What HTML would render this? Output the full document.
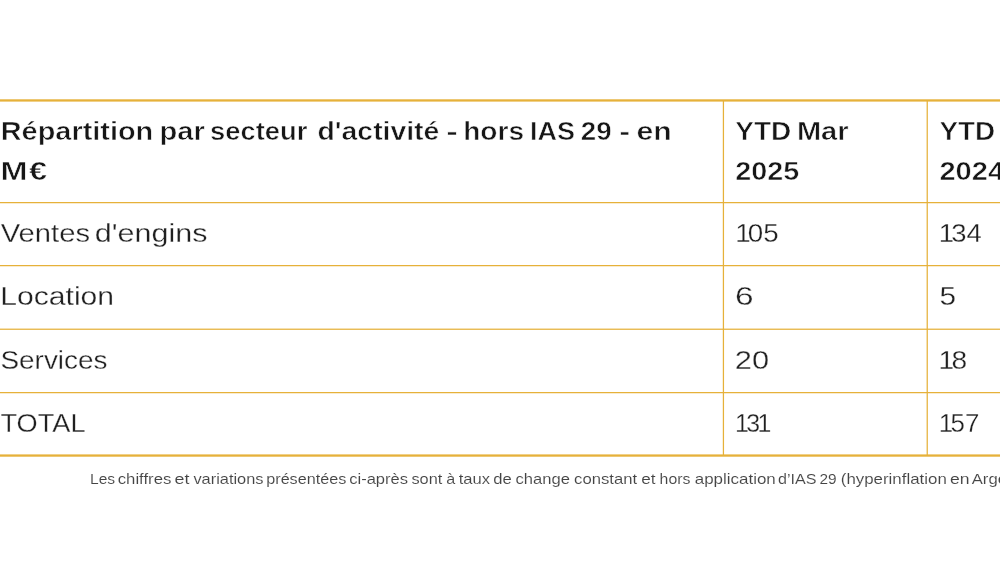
<!DOCTYPE html>
<html lang="fr">
<head>
<meta charset="utf-8">
<title>Répartition par secteur d'activité</title>
<style>
html,body{margin:0;padding:0;background:#fff;}
body{width:1000px;height:564px;overflow:hidden;position:relative;box-sizing:border-box;padding-top:100px;font-family:"Liberation Sans",sans-serif;}
#grid{position:absolute;left:0;top:0;}
table{border-collapse:collapse;table-layout:fixed;width:1131px;margin:0;border:0;}
col.c1{width:723.4px;} col.c2,col.c3{width:203.8px;}
th,td{padding:0;border:0;text-align:left;font-weight:normal;}
thead tr{height:102.4px;} tbody tr{height:63.3px;}
.t{position:absolute;left:0;white-space:nowrap;line-height:1;margin:0;padding:0;height:1em;width:1000px;}
.t span{position:absolute;left:0;top:0;display:block;transform-origin:0 0;}
.t i{font-style:normal;margin:0 -2.7px;}
.h{font-weight:bold;color:#161616;-webkit-text-stroke:0.55px #fff;font-size:26.4px;}
.b{color:#202020;-webkit-text-stroke:0.3px #fff;font-size:26.2px;}
.f{color:#444;-webkit-text-stroke:0.1px #fff;font-size:14px;}
</style>
</head>
<body>
<svg id="grid" width="1000" height="564" viewBox="0 0 1000 564">
  <g fill="#e6b13a">
    <rect x="0" y="99.3" width="1000" height="2.3"/>
    <rect x="0" y="202.0" width="1000" height="1.25"/>
    <rect x="0" y="265.0" width="1000" height="1.25"/>
    <rect x="0" y="328.6" width="1000" height="1.25"/>
    <rect x="0" y="392.0" width="1000" height="1.25"/>
    <rect x="0" y="454.4" width="1000" height="2.3"/>
    <rect x="722.8" y="100" width="1.25" height="355"/>
    <rect x="926.6" y="100" width="1.25" height="355"/>
  </g>
</svg>
<table>
<colgroup><col class="c1"><col class="c2"><col class="c3"></colgroup>
<thead>
<tr>
<th><div class="t h" id="h1a" style="top:118px"><span id="h1a_0" style="transform:translateX(0.75px) scaleX(1.095)">Répartition</span> <span id="h1a_1" style="transform:translateX(159.60px) scaleX(1.102)">par</span> <span id="h1a_2" style="transform:translateX(210.05px) scaleX(1.036)">secteur</span> <span id="h1a_3" style="transform:translateX(317.50px) scaleX(1.075)">d'activité</span> <span id="h1a_4" style="transform:translateX(446.25px) scaleX(1.322)">-</span> <span id="h1a_5" style="transform:translateX(463.20px) scaleX(1.063)">hors</span> <span id="h1a_6" style="transform:translateX(530.00px) scaleX(1.021)">IAS</span> <span id="h1a_7" style="transform:translateX(580.75px) scaleX(1.052)">29</span> <span id="h1a_8" style="transform:translateX(619.30px) scaleX(1.240)">-</span> <span id="h1a_9" style="transform:translateX(636.50px) scaleX(1.145)">en</span></div>
<div class="t h" id="h1b" style="top:158px"><span id="h1b_0" style="letter-spacing:1.2px;transform:translateX(0.50px) scaleX(1.229)">M€</span></div></th>
<th><div class="t h" id="h2a" style="top:118px"><span id="h2a_0" style="transform:translateX(735.25px) scaleX(1.062)">YTD</span> <span id="h2a_1" style="transform:translateX(796.90px) scaleX(1.101)">Mar</span></div>
<div class="t h" id="h2b" style="top:158px"><span id="h2b_0" style="transform:translateX(735.25px) scaleX(1.091)">2025</span></div></th>
<th><div class="t h" id="h3a" style="top:118px"><span id="h3a_0" style="transform:translateX(939.40px) scaleX(1.057)">YTD</span> <span id="h3a_1" style="transform:translateX(1001.05px) scaleX(1.107)">Mar</span></div>
<div class="t h" id="h3b" style="top:158px"><span id="h3b_0" style="transform:translateX(939.40px) scaleX(1.101)">2024</span></div></th>
</tr>
</thead>
<tbody>
<tr>
<td><div class="t b" id="r1a" style="top:220px"><span id="r1a_0" style="transform:translateX(0.75px) scaleX(1.114)">Ventes</span> <span id="r1a_1" style="transform:translateX(94.75px) scaleX(1.166)">d'engins</span></div></td>
<td><div class="t b" id="r1b" style="top:220px"><span id="r1b_0" style="transform:translateX(738.05px) scaleX(1.060)"><i>1</i>05</span></div></td>
<td><div class="t b" id="r1c" style="top:220px"><span id="r1c_0" style="transform:translateX(941.55px) scaleX(1.048)"><i>1</i>34</span></div></td>
</tr>
<tr>
<td><div class="t b" id="r2a" style="top:283px"><span id="r2a_0" style="transform:translateX(0.25px) scaleX(1.150)">Location</span></div></td>
<td><div class="t b" id="r2b" style="top:283px"><span id="r2b_0" style="transform:translateX(735.00px) scaleX(1.275)">6</span></div></td>
<td><div class="t b" id="r2c" style="top:283px"><span id="r2c_0" style="transform:translateX(939.50px) scaleX(1.140)">5</span></div></td>
</tr>
<tr>
<td><div class="t b" id="r3a" style="top:347px"><span id="r3a_0" style="transform:translateX(0.50px) scaleX(1.065)">Services</span></div></td>
<td><div class="t b" id="r3b" style="top:347px"><span id="r3b_0" style="transform:translateX(734.75px) scaleX(1.177)">20</span></div></td>
<td><div class="t b" id="r3c" style="top:347px"><span id="r3c_0" style="transform:translateX(941.50px) scaleX(1.076)"><i>1</i>8</span></div></td>
</tr>
<tr>
<td><div class="t b" id="r4a" style="top:410px"><span id="r4a_0" style="transform:translateX(0.50px) scaleX(1.037)">TOTAL</span></div></td>
<td><div class="t b" id="r4b" style="top:410px"><span id="r4b_0" style="transform:translateX(737.50px) scaleX(0.950)"><i>1</i>3<i>1</i></span></div></td>
<td><div class="t b" id="r4c" style="top:410px"><span id="r4c_0" style="transform:translateX(941.50px) scaleX(0.988)"><i>1</i>57</span></div></td>
</tr>
</tbody>
</table>
<p class="t f" id="fn" style="top:472px"><span id="fn_0" style="transform:translateX(90.05px) scaleX(1.111)">Les</span> <span id="fn_1" style="transform:translateX(117.70px) scaleX(1.196)">chiffres</span> <span id="fn_2" style="transform:translateX(174.55px) scaleX(1.275)">et</span> <span id="fn_3" style="transform:translateX(193.40px) scaleX(1.170)">variations</span> <span id="fn_4" style="transform:translateX(266.25px) scaleX(1.155)">présentées</span> <span id="fn_5" style="transform:translateX(349.20px) scaleX(1.181)">ci-après</span> <span id="fn_6" style="transform:translateX(411.45px) scaleX(1.165)">sont</span> <span id="fn_7" style="transform:translateX(446.20px) scaleX(1.155)">à</span> <span id="fn_8" style="transform:translateX(458.70px) scaleX(1.184)">taux</span> <span id="fn_9" style="transform:translateX(493.35px) scaleX(1.190)">de</span> <span id="fn_10" style="transform:translateX(515.55px) scaleX(1.186)">change</span> <span id="fn_11" style="transform:translateX(574.05px) scaleX(1.192)">constant</span> <span id="fn_12" style="transform:translateX(641.20px) scaleX(1.227)">et</span> <span id="fn_13" style="transform:translateX(659.60px) scaleX(1.130)">hors</span> <span id="fn_14" style="transform:translateX(694.70px) scaleX(1.211)">application</span> <span id="fn_15" style="transform:translateX(778.10px) scaleX(1.149)">d’IAS</span> <span id="fn_16" style="transform:translateX(819.55px) scaleX(1.101)">29</span> <span id="fn_17" style="transform:translateX(840.80px) scaleX(1.205)">(hyperinflation</span> <span id="fn_18" style="transform:translateX(949.90px) scaleX(1.259)">en</span> <span id="fn_19" style="transform:translateX(971.75px) scaleX(1.190)">Argentine)</span></p>
</body>
</html>
